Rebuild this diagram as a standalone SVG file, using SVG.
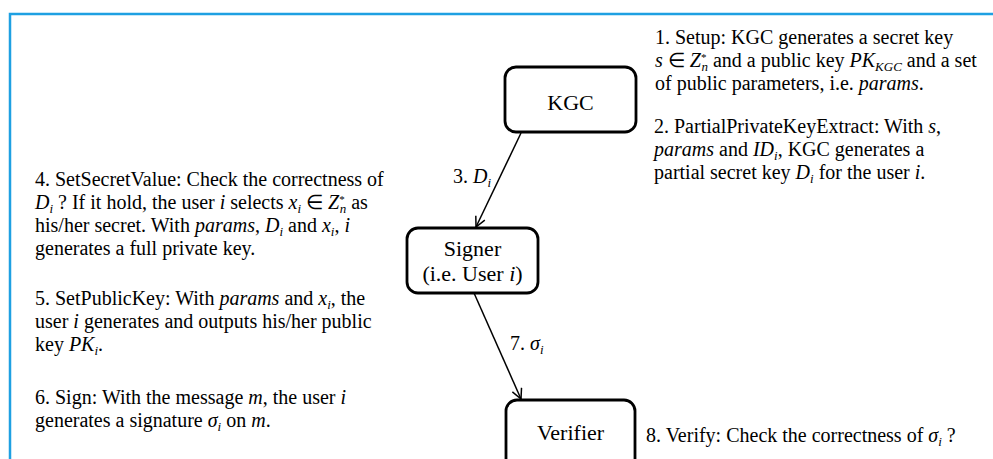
<svg xmlns="http://www.w3.org/2000/svg" width="993" height="459" viewBox="0 0 993 459">
<style>
text{font-family:"Liberation Serif","Times New Roman",serif;fill:#000}
.b{font-size:20px}
.n{font-size:22px;text-anchor:middle}
.i{font-style:italic}
.s{font-size:13px}
.u{font-size:11px}
.box{fill:#fff;stroke:#000;stroke-width:2.8}
.c{stroke:#000;stroke-width:1.5;fill:none}
</style>
<defs>
<marker id="ah" viewBox="0 0 12 12" refX="11" refY="6" markerWidth="12" markerHeight="12" markerUnits="userSpaceOnUse" orient="auto">
<path d="M1,1 L11,6 L1,11" fill="none" stroke="#000" stroke-width="1.5"/>
</marker>
</defs>
<rect x="0" y="0" width="993" height="459" fill="#fff"/>
<rect x="10" y="14" width="1000" height="500" fill="none" stroke="#1ea0e2" stroke-width="2.5"/>

<g id="connectors">
<line class="c" x1="521" y1="133" x2="476" y2="227" marker-end="url(#ah)"/>
<line class="c" x1="474" y1="293" x2="521" y2="399" marker-end="url(#ah)"/>
<text class="b" x="453" y="183">3. <tspan class="i">D</tspan><tspan class="s i" dy="4">i</tspan></text>
<text class="b" x="510" y="350">7. <tspan class="i">σ</tspan><tspan class="s i" dy="4">i</tspan></text>
</g>

<g id="kgc">
<rect class="box" x="505" y="67" width="131" height="65" rx="11"/>
<text class="n" x="570.5" y="110">KGC</text>
</g>
<g id="signer">
<rect class="box" x="407" y="228" width="131" height="65" rx="11"/>
<text class="n" x="472.5" y="256">Signer</text>
<text class="n" x="472.5" y="281">(i.e. User <tspan class="i">i</tspan>)</text>
</g>
<g id="verifier">
<rect class="box" x="506" y="400" width="129" height="80" rx="11"/>
<text class="n" x="570.5" y="440">Verifier</text>
</g>

<g id="notes-right">
<text class="b" x="655" y="44">1. Setup: KGC generates  a secret key</text>
<text class="b" x="655" y="67"><tspan class="i">s</tspan> ∈ <tspan class="i">Z</tspan><tspan class="u" dy="-6">*</tspan><tspan class="s i" dx="-5" dy="10">n</tspan><tspan dy="-4"> and a public key </tspan><tspan class="i">PK</tspan><tspan class="s i" dy="4">KGC</tspan><tspan dy="-4"> and a set</tspan></text>
<text class="b" x="655" y="90">of public parameters, i.e. <tspan class="i">params</tspan>.</text>
<text class="b" x="654" y="133">2. PartialPrivateKeyExtract: With <tspan class="i">s</tspan>,</text>
<text class="b" x="654" y="156"><tspan class="i">params</tspan> and <tspan class="i">ID</tspan><tspan class="s i" dy="4">i</tspan><tspan dy="-4">, KGC generates  a</tspan></text>
<text class="b" x="654" y="179">partial  secret key <tspan class="i">D</tspan><tspan class="s i" dy="4">i</tspan><tspan dy="-4"> for the user <tspan class="i">i</tspan>.</tspan></text>
<text class="b" x="646" y="442">8. Verify: Check the correctness  of <tspan class="i">σ</tspan><tspan class="s i" dy="4">i</tspan><tspan dy="-4"> ?</tspan></text>
</g>

<g id="notes-left">
<text class="b" x="35" y="186">4. SetSecretValue: Check the correctness  of</text>
<text class="b" x="35" y="209"><tspan class="i">D</tspan><tspan class="s i" dy="4">i</tspan><tspan dy="-4"> ? If it hold, the user <tspan class="i">i</tspan> selects </tspan><tspan class="i">x</tspan><tspan class="s i" dy="4">i</tspan><tspan dy="-4"> ∈ </tspan><tspan class="i">Z</tspan><tspan class="u" dy="-6">*</tspan><tspan class="s i" dx="-5" dy="10">n</tspan><tspan dy="-4"> as</tspan></text>
<text class="b" x="35" y="232">his/her secret. With <tspan class="i">params</tspan>, <tspan class="i">D</tspan><tspan class="s i" dy="4">i</tspan><tspan dy="-4"> and </tspan><tspan class="i">x</tspan><tspan class="s i" dy="4">i</tspan><tspan dy="-4">, <tspan class="i">i</tspan></tspan></text>
<text class="b" x="35" y="255">generates  a full private key.</text>
<text class="b" x="35" y="305">5. SetPublicKey: With <tspan class="i">params</tspan> and <tspan class="i">x</tspan><tspan class="s i" dy="4">i</tspan><tspan dy="-4">, the</tspan></text>
<text class="b" x="35" y="328">user <tspan class="i">i</tspan> generates  and outputs his/her public</text>
<text class="b" x="35" y="351">key <tspan class="i">PK</tspan><tspan class="s i" dy="4">i</tspan><tspan dy="-4">.</tspan></text>
<text class="b" x="35" y="404">6. Sign: With the message <tspan class="i">m</tspan>, the user <tspan class="i">i</tspan></text>
<text class="b" x="35" y="427">generates  a signature <tspan class="i">σ</tspan><tspan class="s i" dy="4">i</tspan><tspan dy="-4"> on <tspan class="i">m</tspan>.</tspan></text>
</g>
</svg>
